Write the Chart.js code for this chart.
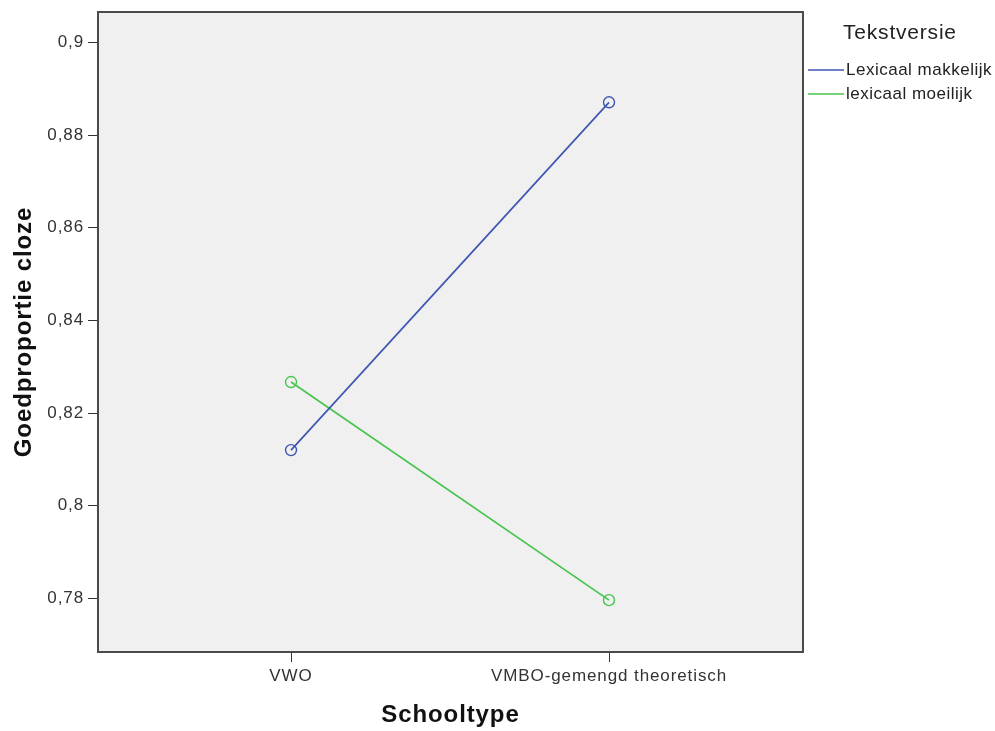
<!DOCTYPE html>
<html>
<head>
<meta charset="utf-8">
<script src="https://cdn.jsdelivr.net/npm/chart.js@4.4.1/dist/chart.umd.min.js"></script>
<style>
  html, body { margin: 0; padding: 0; background: #ffffff; }
  #wrap { width: 995px; height: 731px; }
</style>
</head>
<body>
<div id="wrap"><canvas id="chart" width="995" height="731"></canvas></div>
<script>
// data
const categories = ['VWO', 'VMBO-gemengd theoretisch'];
const seriesNames = ['Lexicaal makkelijk', 'lexicaal moeilijk'];
const makkelijk = [0.812, 0.8871];
const moeilijk = [0.8267, 0.7796];
const yTicks = [0.78, 0.8, 0.82, 0.84, 0.86, 0.88, 0.9];
const colors = ['#3f56b3', '#47c44e'];

const FONT = '"Liberation Sans", Arial, sans-serif';

function toPoints(arr) {
    return arr.map((v, i) => ({ x: i, y: v }));
}

// plot background, frame and legend
const framePlugin = {
    id: 'frame',
    beforeDraw(chart) {
        const { ctx, chartArea: a } = chart;
        ctx.save();
        ctx.fillStyle = '#f0f0f0';
        ctx.fillRect(a.left, a.top, a.right - a.left, a.bottom - a.top);
        ctx.restore();
        // the old SPSS text is a bit wider than plain Arial
        ctx.letterSpacing = '0.9px';
    },
    afterDraw(chart) {
        const { ctx, chartArea: a } = chart;
        ctx.save();
        ctx.strokeStyle = '#4a4a4a';
        ctx.lineWidth = 2;
        ctx.strokeRect(a.left, a.top, a.right - a.left, a.bottom - a.top);

        // legend
        const lx = a.right + 5;
        ctx.fillStyle = '#222';
        ctx.textBaseline = 'middle';
        ctx.letterSpacing = '0.8px';
        ctx.font = '21px ' + FONT;
        ctx.fillText('Tekstversie', lx + 35, 33);
        ctx.letterSpacing = '0.5px';
        ctx.font = '17px ' + FONT;
        chart.data.datasets.forEach((ds, i) => {
            const y = 70 + i * 24;
            ctx.strokeStyle = ds.borderColor;
            ctx.lineWidth = 1.5;
            ctx.beginPath();
            ctx.moveTo(lx, y);
            ctx.lineTo(lx + 36, y);
            ctx.stroke();
            ctx.fillStyle = '#222';
            ctx.fillText(ds.label, lx + 38, y);
        });
        ctx.restore();
    }
};

const chart = new Chart(document.getElementById('chart'), {
    type: 'line',
    data: {
        datasets: [
            {
                label: seriesNames[0],
                data: toPoints(makkelijk),
                borderColor: colors[0],
                backgroundColor: 'rgba(0,0,0,0)',
                borderWidth: 1.7,
                pointRadius: 5.5,
                pointBorderWidth: 1.4,
                pointBackgroundColor: 'rgba(0,0,0,0)',
                pointBorderColor: colors[0]
            },
            {
                label: seriesNames[1],
                data: toPoints(moeilijk),
                borderColor: colors[1],
                backgroundColor: 'rgba(0,0,0,0)',
                borderWidth: 1.7,
                pointRadius: 5.5,
                pointBorderWidth: 1.4,
                pointBackgroundColor: 'rgba(0,0,0,0)',
                pointBorderColor: colors[1]
            }
        ]
    },
    options: {
        responsive: false,
        animation: false,
        layout: { padding: { left: 0, top: 12, right: 192, bottom: 0 } },
        plugins: {
            legend: { display: false },
            tooltip: { enabled: false }
        },
        scales: {
            x: {
                type: 'linear',
                min: -0.607,
                max: 1.61,
                afterFit(scale) {
                    scale.height = 79;
                    scale.paddingLeft = 0;
                    scale.paddingRight = 0;
                },
                afterBuildTicks(scale) {
                    scale.ticks = categories.map((c, i) => ({ value: i }));
                },
                grid: {
                    drawOnChartArea: false,
                    drawTicks: true,
                    tickLength: 10,
                    tickColor: '#333',
                    tickWidth: 1
                },
                border: { display: true, color: '#4a4a4a', width: 2 },
                ticks: {
                    autoSkip: false,
                    maxRotation: 0,
                    padding: 4,
                    color: '#333',
                    font: { family: FONT, size: 17 },
                    callback: (v) => categories[v]
                },
                title: {
                    display: true,
                    text: 'Schooltype',
                    color: '#111',
                    font: { family: FONT, size: 24, weight: 'bold' },
                    padding: { top: 0, bottom: 1 }
                }
            },
            y: {
                min: 0.7684,
                max: 0.9066,
                afterFit(scale) {
                    scale.width = 98;
                    scale.paddingTop = 0;
                    scale.paddingBottom = 0;
                },
                afterBuildTicks(scale) {
                    scale.ticks = yTicks.map(v => ({ value: v }));
                },
                grid: {
                    drawOnChartArea: false,
                    drawTicks: true,
                    tickLength: 10,
                    tickColor: '#333',
                    tickWidth: 1
                },
                border: { display: true, color: '#4a4a4a', width: 2 },
                ticks: {
                    padding: 4,
                    color: '#333',
                    font: { family: FONT, size: 17 },
                    callback: (v) => String(Number(v.toFixed(2))).replace('.', ',')
                },
                title: {
                    display: true,
                    text: 'Goedproportie cloze',
                    color: '#111',
                    font: { family: FONT, size: 24, weight: 'bold' },
                    padding: { top: 10, bottom: 0 }
                }
            }
        }
    },
    plugins: [framePlugin]
});
</script>
</body>
</html>
